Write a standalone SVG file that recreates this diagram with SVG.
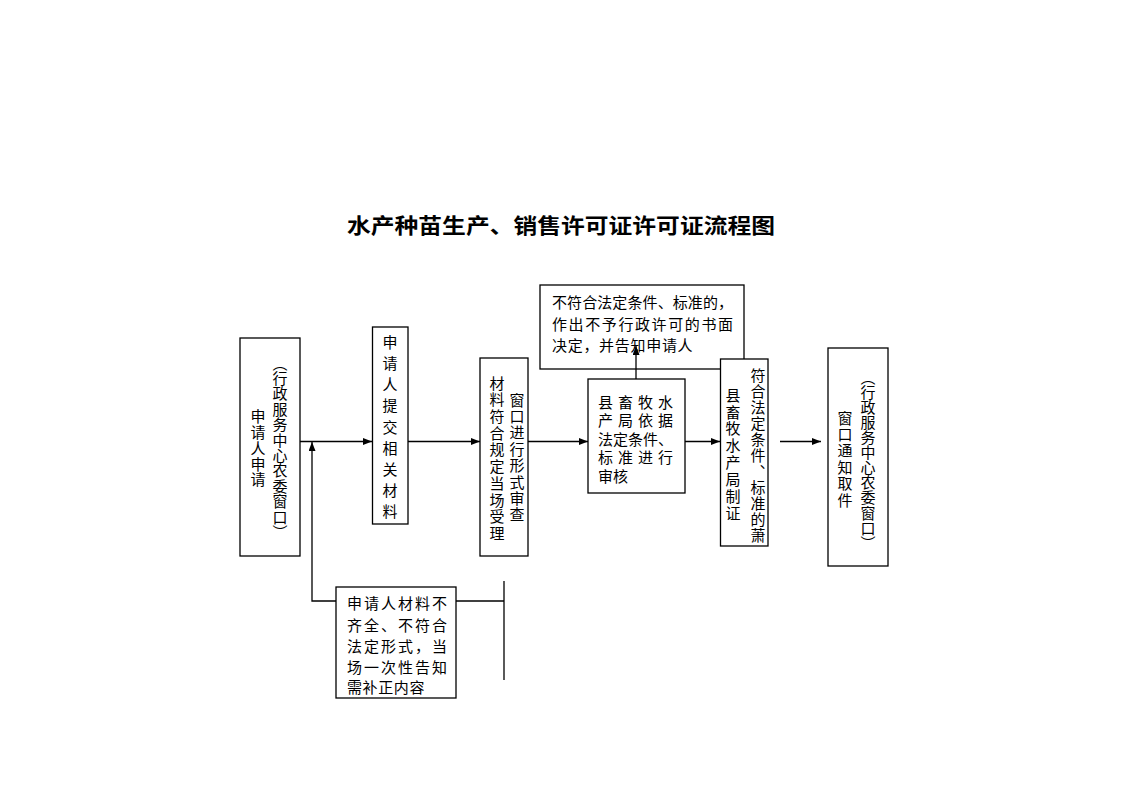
<svg xmlns="http://www.w3.org/2000/svg" width="1122" height="793" viewBox="0 0 1122 793">
<style>
.box{fill:#fff;stroke:#000;stroke-width:1.3}
.t{font-family:"Noto Sans CJK SC","Liberation Sans",sans-serif;font-size:15px;fill:#000}
.v{writing-mode:vertical-rl}
.ln{stroke:#000;stroke-width:1.3;fill:none}
.title{font-family:"Noto Sans CJK SC","Liberation Sans",sans-serif;font-size:21px;font-weight:bold;fill:#000}
</style>
<defs>
<marker id="ah" markerUnits="userSpaceOnUse" markerWidth="10" markerHeight="8" refX="9" refY="3.5" orient="auto">
<path d="M0,0 L9,3.5 L0,7 z" fill="#000"/>
</marker>
</defs>
<rect width="1122" height="793" fill="#fff"/>
<text class="title" x="347" y="233" textLength="428" lengthAdjust="spacingAndGlyphs">水产种苗生产、销售许可证许可证流程图</text>

<g id="n-apply">
<rect class="box" x="240" y="338" width="60" height="218"/>
<text class="t v" x="280" y="355.5" letter-spacing="0.4">（行政服务中心农委窗口）</text>
<text class="t v" x="258" y="409" letter-spacing="0.8">申请人申请</text>
</g>

<g id="n-submit">
<rect class="box" x="372.5" y="327" width="35.5" height="197"/>
<text class="t v" x="390" y="335" letter-spacing="6.1">申请人提交相关材料</text>
</g>

<g id="n-window">
<rect class="box" x="480" y="358" width="48" height="198"/>
<text class="t v" x="517" y="392.5" letter-spacing="1.4">窗口进行形式审查</text>
<text class="t v" x="497" y="375.5" letter-spacing="1.7">材料符合规定当场受理</text>
</g>

<g id="n-reject">
<rect class="box" x="540" y="285" width="204" height="84"/>
<text class="t" x="552" y="307.5" textLength="181" lengthAdjust="spacing">不符合法定条件、标准的，</text>
<text class="t" x="552" y="329.5" textLength="181" lengthAdjust="spacing">作出不予行政许可的书面</text>
<text class="t" x="552" y="350.5" letter-spacing="0.7">决定，并告知申请人</text>
</g>

<g id="n-review">
<rect class="box" x="588" y="379" width="97" height="114"/>
<text class="t" x="598" y="407.5" textLength="75" lengthAdjust="spacing">县畜牧水</text>
<text class="t" x="598" y="426" textLength="75" lengthAdjust="spacing">产局依据</text>
<text class="t" x="598" y="444.5" textLength="75" lengthAdjust="spacing">法定条件、</text>
<text class="t" x="598" y="463" textLength="75" lengthAdjust="spacing">标准进行</text>
<text class="t" x="598" y="481.5">审核</text>
</g>

<g id="n-issue">
<rect class="box" x="720.5" y="359" width="47.5" height="187"/>
<text class="t v" x="758" y="367.5" letter-spacing="1">符合法定条件、标准的萧</text>
<text class="t v" x="733" y="387.5" letter-spacing="1.9">县畜牧水产局制证</text>
</g>

<g id="n-notify">
<rect class="box" x="828" y="348" width="60" height="218"/>
<text class="t v" x="868" y="369.5" letter-spacing="0.1">（行政服务中心农委窗口）</text>
<text class="t v" x="845" y="410.5" letter-spacing="1.4">窗口通知取件</text>
</g>

<g id="n-incomplete">
<rect class="box" x="336" y="587" width="120" height="111"/>
<text class="t" x="347" y="608.5" textLength="100" lengthAdjust="spacing">申请人材料不</text>
<text class="t" x="347" y="630.5" textLength="100" lengthAdjust="spacing">齐全、不符合</text>
<text class="t" x="347" y="651.5" textLength="100" lengthAdjust="spacing">法定形式，当</text>
<text class="t" x="347" y="672.5" textLength="100" lengthAdjust="spacing">场一次性告知</text>
<text class="t" x="347" y="692.5" letter-spacing="0.6">需补正内容</text>
</g>

<g id="connectors">
<line class="ln" x1="300" y1="441.5" x2="372" y2="441.5" marker-end="url(#ah)"/>
<line class="ln" x1="408" y1="441.5" x2="480" y2="441.5" marker-end="url(#ah)"/>
<line class="ln" x1="528" y1="441.5" x2="588" y2="441.5" marker-end="url(#ah)"/>
<line class="ln" x1="685" y1="441.5" x2="720" y2="441.5" marker-end="url(#ah)"/>
<line class="ln" x1="780" y1="441.5" x2="821" y2="441.5" marker-end="url(#ah)"/>
<polyline class="ln" points="336,601 312,601 312,442" marker-end="url(#ah)"/>
<line class="ln" x1="456" y1="601" x2="504" y2="601"/>
<line class="ln" x1="504" y1="581" x2="504" y2="680"/>
<line class="ln" x1="636" y1="379" x2="636" y2="346" marker-end="url(#ah)"/>
</g>
</svg>
